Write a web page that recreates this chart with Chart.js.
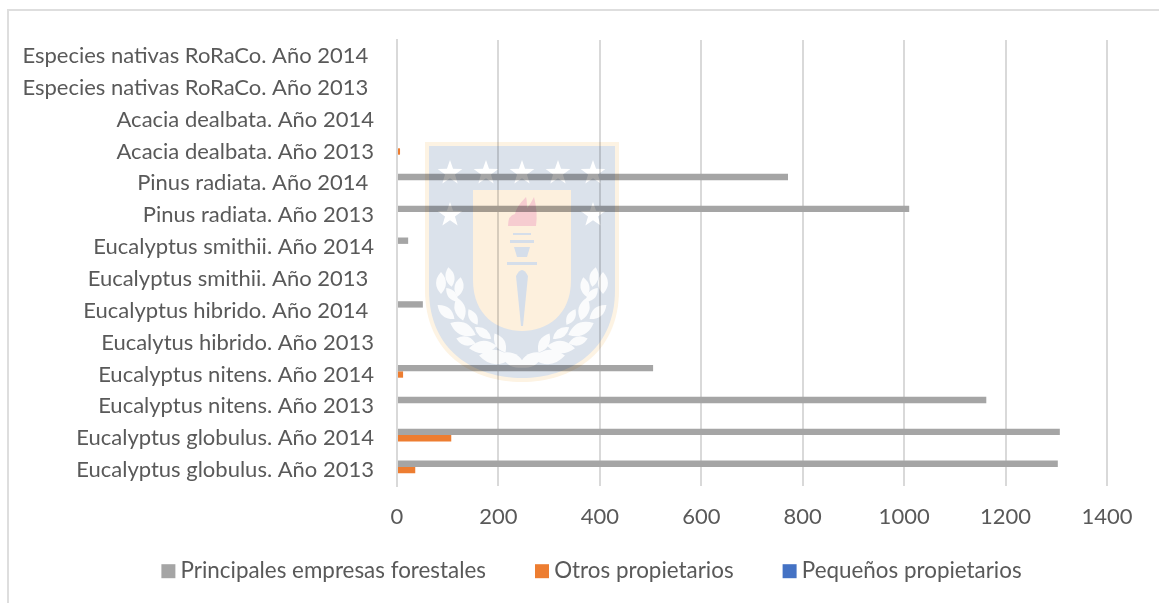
<!DOCTYPE html>
<html><head><meta charset="utf-8">
<style>html,body{margin:0;padding:0;background:#fff}#w{width:1159px;height:603px;position:relative}</style>
<script src="https://cdn.jsdelivr.net/npm/chart.js@4"></script>
</head><body><div id="w"><canvas id="c" width="1159" height="603"></canvas></div>
<script>
const categories = [
 "Especies nativas RoRaCo. Año 2014 ","Especies nativas RoRaCo. Año 2013 ","Acacia dealbata. Año 2014","Acacia dealbata. Año 2013",
 "Pinus radiata. Año 2014 ","Pinus radiata. Año 2013","Eucalyptus smithii. Año 2014","Eucalyptus smithii. Año 2013 ",
 "Eucalyptus hibrido. Año 2014 ","Eucalytus hibrido. Año 2013","Eucalyptus nitens. Año 2014","Eucalyptus nitens. Año 2013",
 "Eucalyptus globulus. Año 2014","Eucalyptus globulus. Año 2013"];
const principales = [0,0,0,0,771,1010,22,0,51,0,505,1162,1307,1303];
const otros = [0,0,0,6,0,0,0,0,0,0,12,0,107,36];
const pequenos = [0,0,0,0,0,0,0,0,0,0,0,0,0,0];
const seriesNames = ["Principales empresas forestales","Otros propietarios","Pequeños propietarios"];
const F = "Lato, sans-serif";
const frame = {id:'frame',beforeDraw(ch){const c=ch.ctx;c.save();c.strokeStyle='#dedede';c.lineWidth=2;c.beginPath();c.moveTo(8,603);c.lineTo(8,10);c.lineTo(1159,10);c.stroke();c.restore();}};
const legendPlace = {id:'legendPlace',
 beforeLayout(ch){const l=ch.legend;if(l&&!l._wrapped){const f=l.fit.bind(l);l.fit=function(){f();this.height=55;};l._wrapped=true;}},
 afterLayout(ch){const l=ch.legend;l.top=505;l.bottom=603;l.left+=41;l.right+=41;}};
function star(c,x,y,r){c.beginPath();for(let i=0;i<10;i++){const a=-Math.PI/2+i*Math.PI/5,q=i%2?r*0.4:r;c.lineTo(x+q*Math.cos(a),y+q*Math.sin(a));}c.closePath();c.fill();}
function shield(c,l,r,t,s,b){const m=(l+r)/2;c.beginPath();c.moveTo(l,t);c.lineTo(r,t);c.lineTo(r,s);c.bezierCurveTo(r,s+(b-s)*0.7,m+(r-m)*0.5,b,m,b);c.bezierCurveTo(m-(r-m)*0.5,b,l,s+(b-s)*0.7,l,s);c.closePath();}
function leaf(c,x,y,l,a){c.save();c.translate(x,y);c.rotate(a);c.beginPath();c.moveTo(-l,0);c.quadraticCurveTo(0,-l*0.9,l,0);c.quadraticCurveTo(0,l*0.9,-l,0);c.fill();c.restore();}
const D=Math.PI/180;
const crest = {id:'crest',afterDatasetsDraw(ch){const c=ch.ctx;c.save();
 const off=document.createElement('canvas');off.width=1159;off.height=603;const o=off.getContext('2d');
 o.fillStyle='#fff';o.fillRect(0,0,1159,603);
 o.fillStyle='#fdf3e3';shield(o,425,619,142,290,382);o.fill();
 o.fillStyle='#dbe2eb';shield(o,429,615,146,290,378);o.fill();
 o.fillStyle='#fdf0dd';shield(o,473,571,190,280,331);o.fill();
 o.fillStyle='#fff';[450,486,522,558,593].forEach(x=>star(o,x,173,13));[450,593].forEach(x=>star(o,x,215,13));
 o.fillStyle='#f6ccd0';o.beginPath();o.moveTo(508,226);o.lineTo(536,226);o.quadraticCurveTo(538,212,534,197);o.quadraticCurveTo(530,205,527,208);o.quadraticCurveTo(527,200,526,197);o.quadraticCurveTo(516,207,515,214);o.quadraticCurveTo(508,215,508,226);o.fill();
 o.fillStyle='#d5deea';o.fillRect(513,233,18,2);o.fillRect(510,240,24,3);
 o.beginPath();o.moveTo(514,247);o.lineTo(530,247);o.lineTo(527,257);o.lineTo(517,257);o.closePath();o.fill();
 o.fillRect(507,262,30,3);
 o.beginPath();o.moveTo(516,276);o.quadraticCurveTo(522,264,528,276);o.lineTo(523,326);o.lineTo(521,326);o.closePath();o.fill();
 const leaves=[[441,283,11,90],[450,277,10,80],[459,287,10,100],[452,295,9,50],[446,312,11,40],[460,309,12,75],[473,317,9,60],[463,329,14,25],[483,333,10,35],[466,341,10,15],[483,347,14,-5],[495,357,16,5],[500,343,11,60],[513,360,14,30]];
 o.fillStyle='#fafbfc';
 leaves.forEach(([x,y,l,a])=>{leaf(o,x,y,l,a*D);leaf(o,1044-x,y,l,Math.PI-a*D);});
 c.globalCompositeOperation='multiply';c.drawImage(off,420,138,204,248,420,138,204,248);
 c.restore();}};
new Chart(document.getElementById('c'),{type:'bar',plugins:[frame,legendPlace,crest],
 data:{labels:categories,datasets:[
  {label:seriesNames[0],data:principales,backgroundColor:'#a5a5a5'},
  {label:seriesNames[1],data:otros,backgroundColor:'#ed7d31'},
  {label:seriesNames[2],data:pequenos,backgroundColor:'#4472c4'}]},
 options:{indexAxis:'y',responsive:false,animation:false,
  layout:{padding:{top:40,right:52,left:0,bottom:12}},
  datasets:{bar:{categoryPercentage:0.6,barPercentage:1}},
  plugins:{tooltip:{enabled:false},legend:{position:'bottom',labels:{usePointStyle:true,pointStyle:'rect',boxWidth:2,boxHeight:14,padding:55,color:'#595959',font:{family:F,size:22.4}}}},
  scales:{
   x:{min:0,max:1400,ticks:{stepSize:200,color:'#595959',font:{family:F,size:22},padding:18,callback:v=>String(v)},grid:{color:'#d9d9d9',lineWidth:2,drawTicks:false},border:{display:false},
      afterFit(s){s.height=50;}},
   y:{ticks:{color:'#595959',font:{family:F,size:22},padding:15,autoSkip:false},grid:{display:false},border:{display:true,color:'#d9d9d9',width:2},
      afterFit(s){s.width=397;}}
  }}});
</script></body></html>
